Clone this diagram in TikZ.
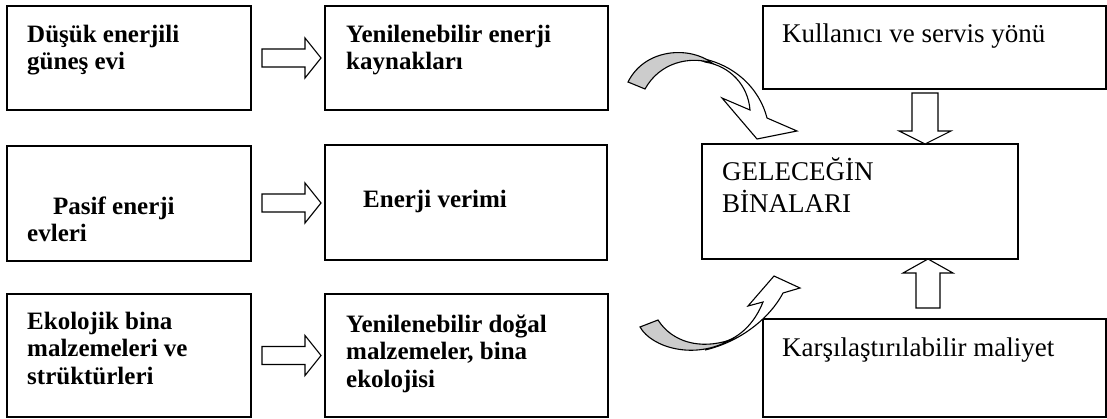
\documentclass[tikz,border=0pt]{standalone}
\usepackage{fontspec}
\setmainfont{Liberation Serif}
\usetikzlibrary{calc}

\newcommand{\firstline}{\rule{0pt}{24pt}}

\begin{document}
\begin{tikzpicture}[x=1pt,y=-1pt,
    box/.style={draw,line width=1.7pt,anchor=north west,inner sep=0pt,outer sep=0pt},
    rbox/.style={draw,line width=1.3pt,anchor=north west,inner sep=0pt,outer sep=0pt},
    lt/.style={anchor=north west,inner sep=0pt,align=left,font=\fontsize{25}{27.5}\selectfont\bfseries},
    rt/.style={anchor=north west,inner sep=0pt,align=left,font=\fontsize{27}{32}\selectfont},
    blk/.style={draw,line width=1.1pt,fill=white,line join=miter},
    twist/.style={draw,line width=1.1pt,fill=gray!40}]

    \useasboundingbox (0,0) rectangle (1107,419);

    % Left and middle columns
    \node[box,minimum width=244pt,minimum height=104pt] (a1) at (7,6)   {};
    \node[box,minimum width=283pt,minimum height=104pt] (b1) at (325,6) {};
    \node[box,minimum width=244pt,minimum height=115pt] (a2) at (7,146)   {};
    \node[box,minimum width=282pt,minimum height=115pt] (b2) at (325,145) {};
    \node[box,minimum width=244pt,minimum height=123pt] (a3) at (7,294)   {};
    \node[box,minimum width=283pt,minimum height=123pt] (b3) at (325,294) {};

    \node[lt] (a1t) at ($(a1.north west)+(20,12)$) {\firstline Düşük enerjili\\güneş evi};
    \node[lt] (b1t) at ($(b1.north west)+(21,12)$) {\firstline Yenilenebilir enerji\\kaynakları};
    \node[lt] (a2t) at ($(a2.north west)+(20,44)$) {\firstline\hspace{26pt}Pasif enerji\\evleri};
    \node[lt] (b2t) at ($(b2.north west)+(38,38)$) {\firstline Enerji verimi};
    \node[lt] (a3t) at ($(a3.north west)+(20,11)$) {\firstline Ekolojik bina\\malzemeleri ve\\strüktürleri};
    \node[lt] (b3t) at ($(b3.north west)+(21,14)$) {\firstline Yenilenebilir doğal\\malzemeler, bina\\ekolojisi};

    % Right column
    \node[rbox,minimum width=343pt,minimum height=83pt]  (kul) at (763,6)   {};
    \node[rbox,minimum width=316pt,minimum height=115pt] (gel) at (702,144) {};
    \node[rbox,minimum width=343pt,minimum height=98pt]  (kar) at (763,319) {};

    \node[rt] (kult) at ($(kul.north west)+(19,12)$) {\firstline Kullanıcı ve servis yönü};
    \node[rt] (gelt) at ($(gel.north west)+(20,12)$) {\firstline GELECEĞİN\\BİNALARI};
    \node[rt] (kart) at ($(kar.north west)+(19,13)$) {\firstline Karşılaştırılabilir maliyet};

    % Block arrows between the columns
    \foreach \u/\v in {a1/b1,a2/b2,a3/b3} {
      \draw[blk,shift={($(\u.east)!0.5!(\v.west)$)}]
        (33,0) -- (17,-20) -- (17,-9) -- (-26,-9) -- (-26,9) -- (17,9) -- (17,20) -- cycle;
    }
    \draw[blk,shift={(925,0 |- gel.north)}]
      (0,0) -- (-26,-13) -- (-13,-13) -- (-13,-51) -- (13,-51) -- (13,-13) -- (26,-13) -- cycle;
    \draw[blk,shift={(928,0 |- gel.south)}]
      (0,0) -- (-25,14) -- (-12,14) -- (-12,49) -- (12,49) -- (12,14) -- (25,14) -- cycle;

    % Curved arrows into the centre box
    \draw[blk] (693,57) .. controls (735,62) and (760,90) .. (767,118) -- (797,131)
      -- (757,139) -- (722,98) -- (750,110) .. controls (748,85) and (730,66) .. (705,62) -- cycle;
    \draw[twist] (628,82) .. controls (645,48) and (690,46) .. (712,63)
      .. controls (690,56) and (660,62) .. (645,89) -- cycle;

    \draw[blk] (705,350) .. controls (740,342) and (770,318) .. (783,293) -- (800,288)
      -- (774,276) -- (748,306) -- (763,302) .. controls (755,322) and (742,335) .. (727,341) -- cycle;
    \draw[twist] (640,327) .. controls (652,348) and (695,360) .. (730,340)
      .. controls (700,350) and (672,342) .. (658,320) -- cycle;

\end{tikzpicture}
\end{document}
